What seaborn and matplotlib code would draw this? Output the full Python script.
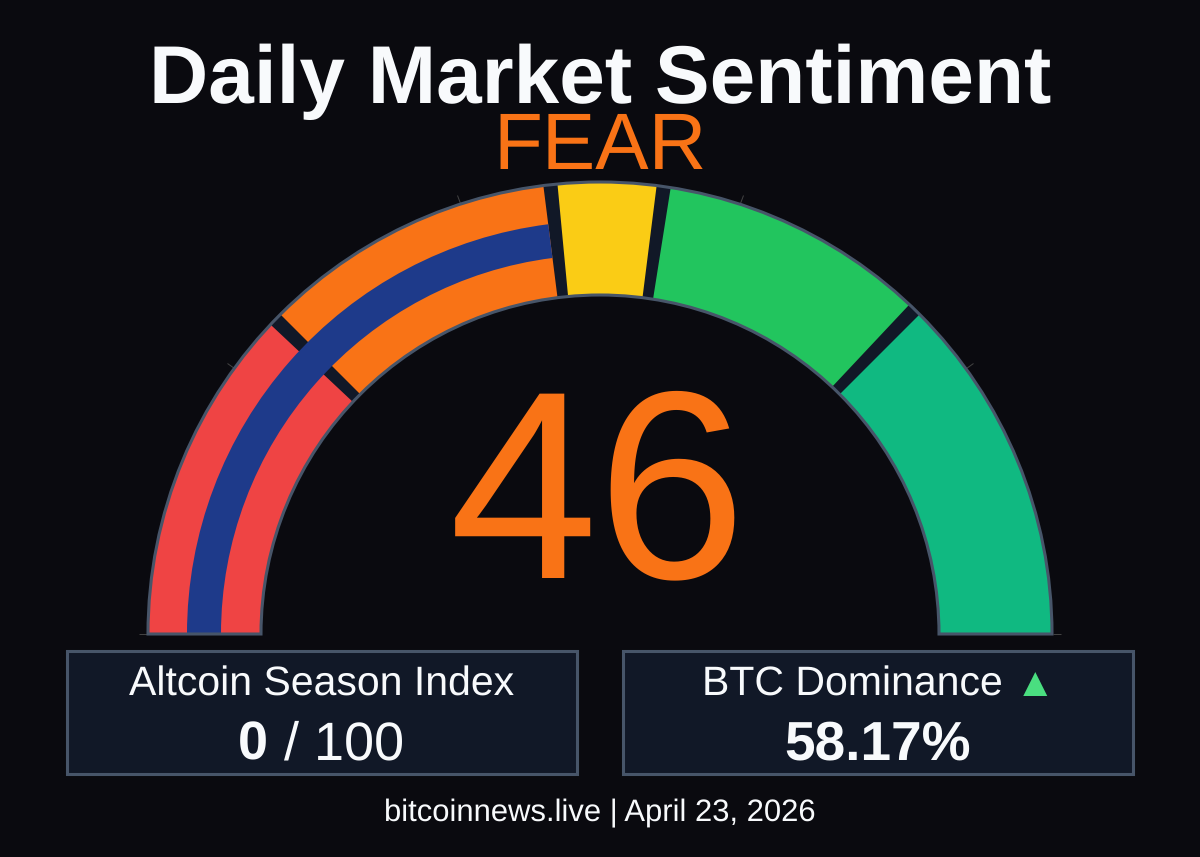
import numpy as np
import matplotlib
matplotlib.use("Agg")
import matplotlib.pyplot as plt
from matplotlib.patches import Rectangle
import seaborn as sns

# Gauge data (score scale 0-100)
score = 46
step_starts = [0, 25, 47, 55, 75]
step_ends = [24, 46, 54, 74, 100]
step_colors = ["#ef4444", "#f97316", "#facc15", "#22c55e", "#10b981"]
tick_values = [0, 20, 40, 60, 80, 100]

title = "Daily Market Sentiment"
label = "FEAR"
altcoin_label = "Altcoin Season Index"
altcoin_value = "0"
altcoin_max = "/ 100"
btc_label = "BTC Dominance"
btc_value = "58.17%"
footer = "bitcoinnews.live | April 23, 2026"

BG = "#0a0a0f"
PANEL = "#111827"
BORDER = "#475569"
WHITE = "#f8fafc"
ORANGE = "#f97316"

sns.set_theme(style="dark", rc={"figure.facecolor": BG, "savefig.facecolor": BG})
plt.rcParams["font.family"] = ["Liberation Sans", "DejaVu Sans"]
plt.rcParams["text.hinting"] = "no_hinting"
plt.rcParams["text.hinting_factor"] = 1

W, H = 1200, 857
CX, CY = 600, 634
R_IN, R_OUT = 339, 452
R_MAX = 453

fig = plt.figure(figsize=(W / 100, H / 100), dpi=100)


def to_theta(v):
    return np.asarray(v) / 100 * np.pi


# Gauge on a polar axes, radius in pixels
ax = fig.add_axes([(CX - R_MAX) / W, (H - CY - R_MAX) / H, 2 * R_MAX / W, 2 * R_MAX / H],
                  projection="polar")
ax.set_theta_zero_location("W")
ax.set_theta_direction(-1)
ax.set_ylim(0, R_MAX)
ax.patch.set_alpha(0)
ax.grid(False)
ax.spines["polar"].set_visible(False)
ax.set_yticks([])
ax.set_xticks(to_theta(tick_values))
ax.set_xticklabels([])
ax.tick_params(axis="x", direction="out", length=6, width=0.7, color="#444444",
               bottom=False, top=True)

# dark track shows through as the seams between steps
ax.bar(x=0, height=R_OUT - R_IN, width=np.pi, bottom=R_IN, align="edge", color=PANEL, linewidth=0)
starts = to_theta(step_starts)
ends = to_theta(step_ends)
ax.bar(x=starts, height=R_OUT - R_IN, width=ends - starts, bottom=R_IN, align="edge",
       color=sns.color_palette(step_colors), linewidth=0)
# value bar
ax.bar(x=0, height=34, width=to_theta(score), bottom=379, align="edge", color="#1e3a8a", linewidth=0)
# outline
ax.bar(x=0, height=R_OUT - R_IN, width=np.pi, bottom=R_IN, align="edge", fill=False,
       edgecolor=BORDER, linewidth=2.2, clip_on=False)

# Overlay in pixel coordinates for panels and text
ov = fig.add_axes([0, 0, 1, 1])
ov.set_xlim(0, W)
ov.set_ylim(H, 0)
ov.axis("off")

for x0, x1 in [(67, 577), (623, 1133)]:
    ov.add_patch(Rectangle((x0, 650.5), x1 - x0 - 0.5, 123, facecolor=PANEL, edgecolor=BORDER, linewidth=2.2))

ov.text(600, 103, title, ha="center", va="baseline", fontsize=59, fontweight="bold", color=WHITE)
ov.text(600, 168.5, label, ha="center", va="baseline", fontsize=57.6, color=ORANGE)
ov.text(597.5, 577, str(score), ha="center", va="baseline", fontsize=193, color=ORANGE)

ov.text(322, 696, altcoin_label, ha="center", va="baseline", fontsize=29.6, color=WHITE)
ov.text(238, 759, altcoin_value, ha="left", va="baseline", fontsize=39, fontweight="bold", color=WHITE)
ov.text(284.5, 759, altcoin_max, ha="left", va="baseline", fontsize=39, color=WHITE)

ov.text(852, 696, btc_label, ha="center", va="baseline", fontsize=29.6, color=WHITE)
ov.text(1035.5, 696, "▲", ha="center", va="baseline", fontsize=29.6, color="#4ade80")
ov.text(878, 759, btc_value, ha="center", va="baseline", fontsize=39.4, fontweight="bold", color=WHITE)

ov.text(600, 821, footer, ha="center", va="baseline", fontsize=22.2, color=WHITE)

fig.savefig("out.png", dpi=100)
